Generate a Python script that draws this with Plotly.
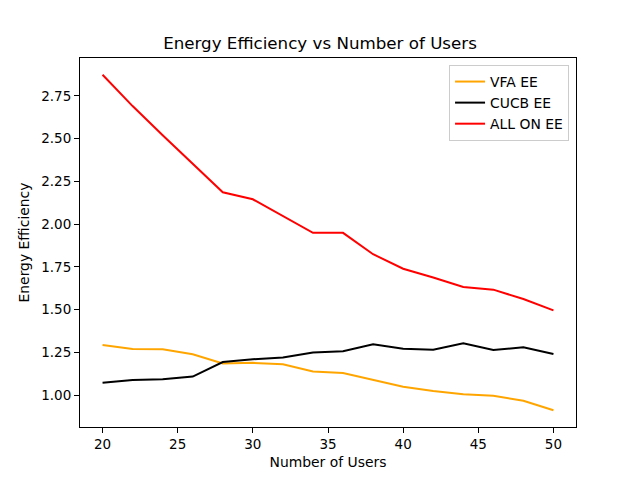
import plotly.graph_objects as go

users = [20, 22, 24, 26, 28, 30, 32, 34, 36, 38, 40, 42, 44, 46, 48, 50]
vfa_ee = [1.293, 1.270, 1.268, 1.239, 1.185, 1.189, 1.181, 1.138, 1.130, 1.088, 1.049, 1.025, 1.006, 0.996, 0.967, 0.912]
cucb_ee = [1.072, 1.088, 1.093, 1.109, 1.194, 1.210, 1.220, 1.249, 1.257, 1.297, 1.272, 1.266, 1.303, 1.264, 1.280, 1.241]
all_on_ee = [2.873, 2.69, 2.52, 2.35, 2.186, 2.145, 2.048, 1.949, 1.949, 1.824, 1.739, 1.688, 1.632, 1.617, 1.562, 1.496]

x_ticks = [20, 25, 30, 35, 40, 45, 50]
y_ticks = [1.00, 1.25, 1.50, 1.75, 2.00, 2.25, 2.50, 2.75]

fig = go.Figure()
for name, vals, color in [("VFA EE", vfa_ee, "orange"), ("CUCB EE", cucb_ee, "black"), ("ALL ON EE", all_on_ee, "red")]:
    fig.add_trace(go.Scatter(x=users, y=vals, mode="lines", name=name,
                             line=dict(color=color, width=2)))

allv = vfa_ee + cucb_ee + all_on_ee
lo, hi = min(allv), max(allv)
pad = (hi - lo) * 0.05

axis_common = dict(showline=True, linecolor="black", linewidth=1, mirror=True,
                   ticks="outside", ticklen=5, tickcolor="black", showgrid=False,
                   zeroline=False, tickfont=dict(size=13.5, color="black"))

fig.update_layout(
    width=640, height=480,
    paper_bgcolor="white", plot_bgcolor="white",
    font=dict(family="DejaVu Sans", color="black"),
    margin=dict(l=80, r=64, t=58, b=53),
    title=dict(text="Energy Efficiency vs Number of Users", x=0.5, xanchor="center",
               y=1 - 43 / 480, yanchor="middle", font=dict(size=16.7, color="black")),
    xaxis=dict(range=[18.5, 51.5], tickvals=x_ticks, ticktext=[str(t) for t in x_ticks],
               title=dict(text="Number of Users", font=dict(size=13.9), standoff=6), **axis_common),
    yaxis=dict(range=[lo - pad, hi + pad], tickvals=y_ticks, ticktext=[f"{t:.2f}" for t in y_ticks],
               title=dict(text="Energy Efficiency", font=dict(size=13.9), standoff=8), **axis_common),
    legend=dict(x=0.986, y=0.981, xanchor="right", yanchor="top",
                bordercolor="#cccccc", borderwidth=1, bgcolor="rgba(255,255,255,0.8)",
                font=dict(size=13.9, color="black"), tracegroupgap=0),
    showlegend=True,
)

fig.write_html("out.html", config={"displayModeBar": False},
               post_script="document.body.style.margin='0';")
